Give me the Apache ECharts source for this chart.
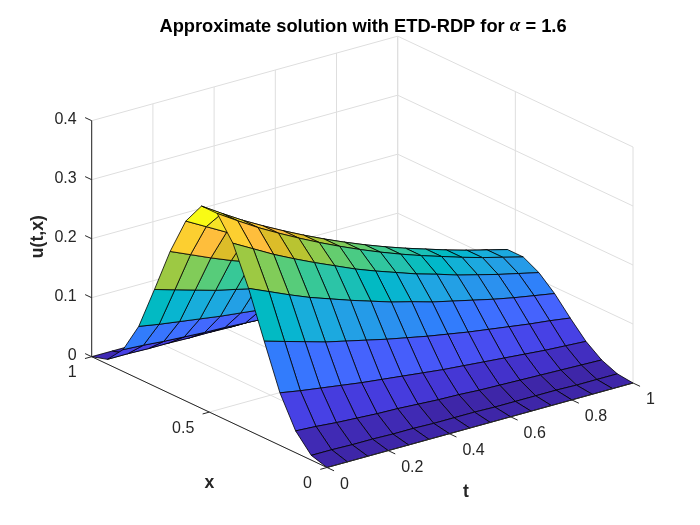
<!DOCTYPE html>
<html>
<head>
<meta charset="utf-8">
<script src="https://cdn.jsdelivr.net/npm/echarts@6/dist/echarts.min.js"></script>
<style>
html, body { margin: 0; padding: 0; background: #fff; }
#main { width: 700px; height: 525px; }
</style>
</head>
<body>
<div id="main"></div>
<script>
// grid of the numerical solution (t along rows of uGrid, x along columns)
const tValues = [0, 0.0667, 0.1333, 0.2, 0.2667, 0.3333, 0.4, 0.4667, 0.5333, 0.6, 0.6667, 0.7333, 0.8, 0.8667, 0.9333, 1];
const xValues = [0, 0.0667, 0.1333, 0.2, 0.2667, 0.3333, 0.4, 0.4667, 0.5333, 0.6, 0.6667, 0.7333, 0.8, 0.8667, 0.9333, 1];
const uGrid = [
    [0, 0.008, 0.037, 0.089, 0.164, 0.241, 0.305, 0.343, 0.343, 0.305, 0.241, 0.164, 0.089, 0.037, 0.008, 0],
    [0, 0.008, 0.035, 0.083, 0.154, 0.226, 0.286, 0.321, 0.321, 0.286, 0.226, 0.154, 0.083, 0.035, 0.008, 0],
    [0, 0.007, 0.032, 0.078, 0.144, 0.211, 0.267, 0.300, 0.300, 0.267, 0.211, 0.144, 0.078, 0.032, 0.007, 0],
    [0, 0.007, 0.030, 0.073, 0.134, 0.197, 0.250, 0.281, 0.281, 0.250, 0.197, 0.134, 0.073, 0.030, 0.007, 0],
    [0, 0.006, 0.028, 0.068, 0.126, 0.185, 0.234, 0.263, 0.263, 0.234, 0.185, 0.126, 0.068, 0.028, 0.006, 0],
    [0, 0.006, 0.027, 0.064, 0.118, 0.173, 0.219, 0.246, 0.246, 0.219, 0.173, 0.118, 0.064, 0.027, 0.006, 0],
    [0, 0.005, 0.025, 0.060, 0.110, 0.162, 0.204, 0.230, 0.230, 0.204, 0.162, 0.110, 0.060, 0.025, 0.005, 0],
    [0, 0.005, 0.023, 0.056, 0.103, 0.151, 0.191, 0.215, 0.215, 0.191, 0.151, 0.103, 0.056, 0.023, 0.005, 0],
    [0, 0.005, 0.022, 0.052, 0.096, 0.142, 0.179, 0.201, 0.201, 0.179, 0.142, 0.096, 0.052, 0.022, 0.005, 0],
    [0, 0.004, 0.020, 0.049, 0.090, 0.132, 0.167, 0.188, 0.188, 0.167, 0.132, 0.090, 0.049, 0.020, 0.004, 0],
    [0, 0.004, 0.019, 0.046, 0.084, 0.124, 0.157, 0.176, 0.176, 0.157, 0.124, 0.084, 0.046, 0.019, 0.004, 0],
    [0, 0.004, 0.018, 0.043, 0.079, 0.116, 0.146, 0.165, 0.165, 0.146, 0.116, 0.079, 0.043, 0.018, 0.004, 0],
    [0, 0.004, 0.017, 0.040, 0.074, 0.108, 0.137, 0.154, 0.154, 0.137, 0.108, 0.074, 0.040, 0.017, 0.004, 0],
    [0, 0.003, 0.016, 0.037, 0.069, 0.101, 0.128, 0.144, 0.144, 0.128, 0.101, 0.069, 0.037, 0.016, 0.003, 0],
    [0, 0.003, 0.015, 0.035, 0.065, 0.095, 0.120, 0.135, 0.135, 0.120, 0.095, 0.065, 0.035, 0.015, 0.003, 0],
    [0, 0.003, 0.014, 0.033, 0.060, 0.089, 0.112, 0.126, 0.126, 0.112, 0.089, 0.060, 0.033, 0.014, 0.003, 0]
];

// axis ticks
const tTicks = [0, 0.2, 0.4, 0.6, 0.8, 1];
const tTickLabels = ['0', '0.2', '0.4', '0.6', '0.8', '1'];
const xTicks = [0, 0.5, 1];
const xTickLabels = ['0', '0.5', '1'];
const zTicks = [0, 0.1, 0.2, 0.3, 0.4];
const zTickLabels = ['0', '0.1', '0.2', '0.3', '0.4'];
const zMax = 0.4;

// parula(64)
const PARULA = ['#3e26a8', '#402ab4', '#422ec0', '#4332cb', '#4537d5', '#463cde', '#4741e5', '#4747eb',
    '#484df0', '#4852f4', '#4758f8', '#465efb', '#4563fd', '#4269fe', '#3e6fff', '#3875fe',
    '#327cfc', '#2f81fa', '#2e87f7', '#2d8cf3', '#2b91ef', '#2796eb', '#259be8', '#23a0e5',
    '#20a5e3', '#1ca9df', '#18addb', '#12b1d6', '#08b5d0', '#01b8ca', '#02bac3', '#0bbdbd',
    '#19bfb6', '#24c1ae', '#2cc4a7', '#31c69f', '#37c897', '#3fca8e', '#4acb84', '#57cc7a',
    '#64cd6f', '#72cd64', '#81cc59', '#8fcb4e', '#9dc943', '#abc739', '#b9c431', '#c5c22a',
    '#d1bf27', '#dcbd29', '#e6bb2d', '#f0ba36', '#f8ba3d', '#febe3c', '#fec338', '#fec934',
    '#fccf30', '#fad62d', '#f7dc2a', '#f5e327', '#f5e924', '#f6ef20', '#f7f51b', '#f9fb15'];

const FONT = '"Liberation Sans", Arial, Helvetica, sans-serif';
const AXIS_COLOR = '#262626';
const GRID_COLOR = '#dedede';

// position of the axes box on the page (view az -37.5, el 30, stretched to fill)
const ORIGIN = [327, 467.5];
const T_DIR = [306, -84.5];
const X_DIR = [-235.3, -110.8];
const BOX_H = 236;

function proj(t, x, z) {
    return [
        ORIGIN[0] + t * T_DIR[0] + x * X_DIR[0],
        ORIGIN[1] + t * T_DIR[1] + x * X_DIR[1] - z / zMax * BOX_H
    ];
}

let cmin = Infinity, cmax = -Infinity;
uGrid.forEach(row => row.forEach(v => { cmin = Math.min(cmin, v); cmax = Math.max(cmax, v); }));

function faceColor(v) {
    let i = Math.floor((v - cmin) / (cmax - cmin) * PARULA.length);
    if (i > PARULA.length - 1) i = PARULA.length - 1;
    if (i < 0) i = 0;
    return PARULA[i];
}

// surface cells, far ones first so the near ones paint over them
let cells = [];
for (let j = 0; j < tValues.length - 1; j++) {
    for (let k = 0; k < xValues.length - 1; k++) {
        let tc = (tValues[j] + tValues[j + 1]) / 2;
        let xc = (xValues[k] + xValues[k + 1]) / 2;
        cells.push([j, k, 0.609 * tc + 0.793 * xc]);
    }
}
cells.sort((a, b) => b[2] - a[2]);

// grid lines on the floor and the two back walls
let gridSegs = [];
tTicks.forEach(t => {
    gridSegs.push([t, 0, 0, t, 1, 0]);
    gridSegs.push([t, 1, 0, t, 1, zMax]);
});
xTicks.forEach(x => {
    gridSegs.push([0, x, 0, 1, x, 0]);
    gridSegs.push([1, x, 0, 1, x, zMax]);
});
zTicks.forEach(z => {
    gridSegs.push([0, 1, z, 1, 1, z]);
    gridSegs.push([1, 0, z, 1, 1, z]);
});

const axesDef = [
    {from: [0, 0, 0], to: [0, 1, 0], name: 'x', off: [0, 71], rot: 0},
    {from: [0, 0, 0], to: [1, 0, 0], name: 't', off: [-14, 67], rot: 0},
    {from: [0, 1, 0], to: [0, 1, zMax], name: 'u(t,x)', off: [-54, -2], rot: Math.PI / 2}
];

function seg(api, a, b, color) {
    let p = api.coord(proj(a[0], a[1], a[2]));
    let q = api.coord(proj(b[0], b[1], b[2]));
    return {type: 'line', shape: {x1: p[0], y1: p[1], x2: q[0], y2: q[1]}, style: {stroke: color, lineWidth: 1}};
}

function label(x, y, text, align, extra) {
    return Object.assign({
        type: 'text', x: x, y: y,
        style: {text: text, fill: AXIS_COLOR, fontFamily: FONT, fontSize: 16, align: align, verticalAlign: 'middle'}
    }, extra || {});
}

let chart = echarts.init(document.getElementById('main'));
chart.setOption({
    animation: false,
    title: {
        text: '{b|Approximate solution with ETD-RDP for }{a|α}{b| = 1.6}',
        left: 358,
        top: 12,
        textAlign: 'center',
        textStyle: {
            rich: {
                b: {fontFamily: FONT, fontWeight: 'bold', fontSize: 18.3, color: '#000'},
                a: {fontFamily: '"Liberation Serif", "Times New Roman", serif', fontStyle: 'italic', fontSize: 19, color: '#000'}
            }
        }
    },
    grid: {left: 0, right: 0, top: 0, bottom: 0},
    xAxis: {type: 'value', min: 0, max: 700, show: false},
    yAxis: {type: 'value', min: 0, max: 525, inverse: true, show: false},
    series: [
        {
            // light grid lines behind the surface
            type: 'custom', silent: true, z: 1,
            data: gridSegs,
            renderItem: function (params, api) {
                let d = gridSegs[params.dataIndex];
                return seg(api, [d[0], d[1], d[2]], [d[3], d[4], d[5]], GRID_COLOR);
            }
        },
        {
            // surface, faceted: one colour per cell, black edges
            type: 'custom', silent: true, z: 2,
            data: cells,
            renderItem: function (params, api) {
                let j = api.value(0), k = api.value(1);
                let pts = [[j, k], [j + 1, k], [j + 1, k + 1], [j, k + 1]].map(function (c) {
                    return api.coord(proj(tValues[c[0]], xValues[c[1]], uGrid[c[0]][c[1]]));
                });
                return {
                    type: 'polygon',
                    shape: {points: pts},
                    style: {fill: faceColor(uGrid[j][k]), stroke: '#000', lineWidth: 0.8, lineJoin: 'round'}
                };
            }
        },
        {
            // axis lines and names
            type: 'custom', silent: true, z: 3,
            data: axesDef.map((a, i) => [i]),
            renderItem: function (params, api) {
                let a = axesDef[params.dataIndex];
                let mid = proj((a.from[0] + a.to[0]) / 2, (a.from[1] + a.to[1]) / 2, (a.from[2] + a.to[2]) / 2);
                let m = api.coord(mid);
                let name = label(m[0] + a.off[0], m[1] + a.off[1], a.name, 'center', {rotation: a.rot});
                name.style.fontWeight = 'bold';
                name.style.fontSize = 17.6;
                return {
                    type: 'group',
                    children: [seg(api, a.from, a.to, AXIS_COLOR), name]
                };
            }
        },
        {
            // t ticks along the front right edge
            type: 'custom', silent: true, z: 3,
            data: tTicks.map((v, i) => [v, i]),
            renderItem: function (params, api) {
                let t = api.value(0);
                let p = api.coord(proj(t, 0, 0));
                return {
                    type: 'group',
                    children: [
                        seg(api, [t, 0, 0], [t, -0.03, 0], AXIS_COLOR),
                        label(p[0] + 13, p[1] + 17, tTickLabels[params.dataIndex], 'left')
                    ]
                };
            }
        },
        {
            // x ticks along the front left edge
            type: 'custom', silent: true, z: 3,
            data: xTicks.map((v, i) => [v, i]),
            renderItem: function (params, api) {
                let x = api.value(0);
                let p = api.coord(proj(0, x, 0));
                return {
                    type: 'group',
                    children: [
                        seg(api, [0, x, 0], [-0.022, x, 0], AXIS_COLOR),
                        label(p[0] - 15, p[1] + 16, xTickLabels[params.dataIndex], 'right')
                    ]
                };
            }
        },
        {
            // z ticks on the vertical axis
            type: 'custom', silent: true, z: 3,
            data: zTicks.map((v, i) => [v, i]),
            renderItem: function (params, api) {
                let z = api.value(0);
                let p = api.coord(proj(0, 1, z));
                return {
                    type: 'group',
                    children: [
                        seg(api, [0, 1, z], [0, 1.028, z], AXIS_COLOR),
                        label(p[0] - 15, p[1] - 1.5, zTickLabels[params.dataIndex], 'right')
                    ]
                };
            }
        }
    ]
});
</script>
</body>
</html>
